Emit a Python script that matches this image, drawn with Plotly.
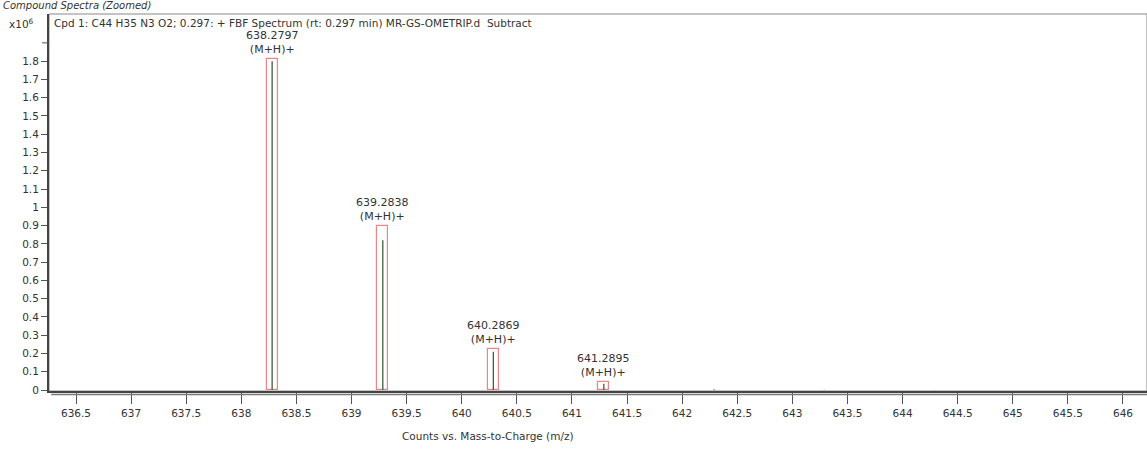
import plotly.graph_objects as go

# Observed peaks (m/z, abundance in counts)
peak_mz = [638.2797, 639.2838, 640.2869, 641.2895, 642.29, 643.29, 644.29]
peak_abund = [1.80e6, 0.82e6, 0.21e6, 0.035e6, 0.004e6, 0.002e6, 0.001e6]

# Predicted isotope boxes
box_mz = [638.2797, 639.2838, 640.2869, 641.2895]
box_height = [1.81e6, 0.90e6, 0.225e6, 0.045e6]
box_labels = ["638.2797", "639.2838", "640.2869", "641.2895"]
box_species = ["(M+H)+", "(M+H)+", "(M+H)+", "(M+H)+"]

x_ticks = [636.5 + 0.5 * i for i in range(20)]
x_ticktext = ["636.5", "637", "637.5", "638", "638.5", "639", "639.5", "640", "640.5",
              "641", "641.5", "642", "642.5", "643", "643.5", "644", "644.5", "645",
              "645.5", "646"]
y_ticks = [i * 0.1e6 for i in range(19)]
y_ticktext = ["0", "0.1", "0.2", "0.3", "0.4", "0.5", "0.6", "0.7", "0.8", "0.9",
              "1", "1.1", "1.2", "1.3", "1.4", "1.5", "1.6", "1.7", "1.8"]
y_unlabeled_tick = 1.9e6

FONT = "DejaVu Sans"
TXT = "#333333"

fig = go.Figure()

fig.add_trace(go.Bar(
    x=box_mz, y=box_height, width=0.1,
    marker=dict(color="rgba(0,0,0,0)", line=dict(color="#e8868a", width=1.2)),
    hoverinfo="skip", showlegend=False,
))

lx, ly = [], []
for m, a in zip(peak_mz, peak_abund):
    lx += [m, m, None]
    ly += [0, a, None]
fig.add_trace(go.Scatter(
    x=lx, y=ly, mode="lines",
    line=dict(color="#3f5f3f", width=1.3),
    hoverinfo="skip", showlegend=False,
))

fig.update_layout(
    width=1147, height=450,
    margin=dict(l=49, r=0, t=14, b=59),
    paper_bgcolor="white", plot_bgcolor="white",
    bargap=0,
    xaxis=dict(
        range=[636.255, 646.218], tickvals=x_ticks, ticktext=x_ticktext,
        ticks="outside", ticklen=11, tickcolor="#555555", tickwidth=1,
        showgrid=False, zeroline=False,
        showline=True, linecolor="#444444", linewidth=2,
        tickfont=dict(family=FONT, size=10.5, color=TXT),
    ),
    yaxis=dict(
        range=[-0.005e6, 2.058e6], tickvals=y_ticks, ticktext=y_ticktext,
        ticks="outside", ticklen=6, tickcolor="#555555", tickwidth=1,
        showgrid=False, zeroline=False,
        showline=True, linecolor="#444444", linewidth=2,
        tickfont=dict(family=FONT, size=10.5, color=TXT),
    ),
)

for m, h, lab, sp in zip(box_mz, box_height, box_labels, box_species):
    fig.add_annotation(x=m, y=h, xref="x", yref="y", yshift=1,
                       text=lab + "<br>" + sp, showarrow=False,
                       yanchor="bottom", xanchor="center",
                       font=dict(family=FONT, size=11, color=TXT))

# frame top/right
fig.add_shape(type="rect", xref="paper", yref="paper", x0=0, x1=1, y0=0, y1=1,
              line=dict(color="#888888", width=1), fillcolor="rgba(0,0,0,0)", layer="below")
# second (lower) x-axis line
fig.add_shape(type="line", xref="paper", yref="paper", ysizemode="pixel", yanchor=0,
              x0=0.002, x1=1, y0=-3.5, y1=-3.5, line=dict(color="#777777", width=1.5))
# unlabeled tick at 1.9e6
fig.add_shape(type="line", xref="paper", yref="y", xsizemode="pixel", xanchor=0,
              x0=-7, x1=0, y0=y_unlabeled_tick, y1=y_unlabeled_tick,
              line=dict(color="#555555", width=1))

fig.add_annotation(xref="paper", yref="paper", x=0.003, y=1, xanchor="left", yanchor="top",
                   yshift=-1,
                   text="Cpd 1: C44 H35 N3 O2; 0.297: + FBF Spectrum (rt: 0.297 min) MR-GS-OMETRIP.d  Subtract",
                   showarrow=False, font=dict(family=FONT, size=10.5, color=TXT))
fig.add_annotation(xref="paper", yref="paper", x=-0.038, y=1, xanchor="left", yanchor="top",
                   yshift=-1, text="x10<sup>6</sup>", showarrow=False,
                   font=dict(family=FONT, size=10.5, color=TXT))
fig.add_annotation(xref="paper", yref="paper", x=-0.044, y=1, xanchor="left", yanchor="bottom",
                   yshift=1, text="<i>Compound Spectra (Zoomed)</i>", showarrow=False,
                   font=dict(family=FONT, size=10, color=TXT))
fig.add_annotation(xref="paper", yref="paper", x=0.4, y=0, xanchor="center", yanchor="top",
                   yshift=-37, text="Counts vs. Mass-to-Charge (m/z)", showarrow=False,
                   font=dict(family=FONT, size=10.5, color=TXT))

fig.write_html("out.html", config={"displayModeBar": False},
               post_script="document.body.style.margin='0';document.body.style.overflow='hidden';")
